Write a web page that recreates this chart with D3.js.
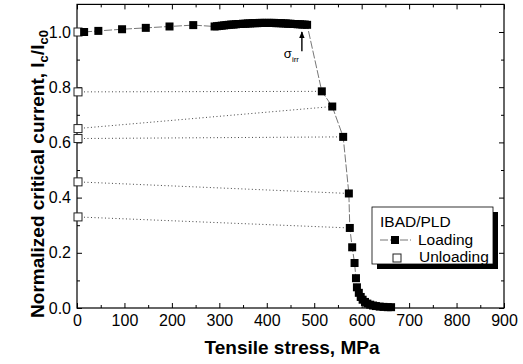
<!DOCTYPE html>
<html><head><meta charset="utf-8">
<script src="https://cdn.jsdelivr.net/npm/d3@7/dist/d3.min.js"></script>
<style>body{margin:0;background:#fff}svg{font-family:"Liberation Sans",Arial,sans-serif}</style>
</head><body>
<svg id="c" width="523" height="364"></svg>
<script>
const loadX = [15,45,95,145,195,245,
 290,295,300,305,310,315,320,325,330,335,340,345,350,355,360,365,370,375,380,385,390,395,400,405,410,415,420,425,430,435,440,445,450,455,460,465,470,475,480,485,
 516,538,561,573,575,580,585,588,590,594,598,602,607,612,618,624,630,638,646,655,662];
const loadY = [1.0,1.004,1.01,1.015,1.02,1.025,
 1.020,1.021,1.022,1.023,1.024,1.025,1.026,1.027,1.027,1.028,1.029,1.029,1.030,1.030,1.031,1.031,1.032,1.032,1.032,1.033,1.033,1.033,1.033,1.033,1.033,1.033,1.032,1.032,1.032,1.031,1.031,1.030,1.030,1.029,1.029,1.028,1.028,1.027,1.027,1.026,
 0.785,0.73,0.62,0.415,0.29,0.22,0.163,0.108,0.075,0.055,0.04,0.03,0.022,0.016,0.012,0.009,0.007,0.005,0.004,0.003,0.003];
const unloadX = [0,0,0,0,0,0];
const unloadY = [1.0,0.783,0.65,0.614,0.457,0.33];
// which loading stress each unloading point is linked to
const linkX = [null,516,538,561,573,575];
const linkY = [null,0.785,0.73,0.62,0.415,0.29];
const xTicks = [0,100,200,300,400,500,600,700,800,900];
const yTicks = [0.0,0.2,0.4,0.6,0.8,1.0];

const svg = d3.select("#c");
const L=77,R=504,T=4.4,B=308;
const x = d3.scaleLinear().domain([0,900]).range([L,R]);
const y = d3.scaleLinear().domain([0,1.1]).range([B,T]);

// frame
svg.append("rect").attr("x",L).attr("y",T).attr("width",R-L).attr("height",B-T)
  .attr("fill","none").attr("stroke","#000").attr("stroke-width",1.2);

// axes
const fmtY = d3.format(".1f");
const gB = svg.append("g").attr("transform",`translate(0,${B})`)
  .call(d3.axisBottom(x).tickValues(xTicks).tickSize(-5).tickPadding(7).tickFormat(d3.format("d")));
const gBm = svg.append("g").attr("transform",`translate(0,${B})`)
  .call(d3.axisBottom(x).tickValues(d3.range(50,900,100)).tickSize(-3).tickFormat(""));
const gT = svg.append("g").attr("transform",`translate(0,${T})`)
  .call(d3.axisTop(x).tickValues(xTicks).tickSize(-5).tickFormat(""));
const gTm = svg.append("g").attr("transform",`translate(0,${T})`)
  .call(d3.axisTop(x).tickValues(d3.range(50,900,100)).tickSize(-3).tickFormat(""));
const gL = svg.append("g").attr("transform",`translate(${L},0)`)
  .call(d3.axisLeft(y).tickValues(yTicks).tickSize(-5).tickPadding(6).tickFormat(fmtY));
const gLm = svg.append("g").attr("transform",`translate(${L},0)`)
  .call(d3.axisLeft(y).tickValues([0.1,0.3,0.5,0.7,0.9]).tickSize(-3).tickFormat(""));
const gR = svg.append("g").attr("transform",`translate(${R},0)`)
  .call(d3.axisRight(y).tickValues(yTicks).tickSize(-5).tickFormat(""));
const gRm = svg.append("g").attr("transform",`translate(${R},0)`)
  .call(d3.axisRight(y).tickValues([0.1,0.3,0.5,0.7,0.9]).tickSize(-3).tickFormat(""));
[gB,gBm,gT,gTm,gL,gLm,gR,gRm].forEach(g=>{
  g.select(".domain").remove();
  g.selectAll("line").attr("stroke","#000");
  g.selectAll("text").attr("font-size",16).attr("fill","#000").attr("font-family","Liberation Sans, Arial, sans-serif");
});

// dotted unloading links
unloadX.forEach((ux,i)=>{
  if(linkX[i]===null) return;
  svg.append("line").attr("x1",x(ux)).attr("y1",y(unloadY[i]))
    .attr("x2",x(linkX[i])).attr("y2",y(linkY[i]))
    .attr("stroke","#444").attr("stroke-width",1).attr("stroke-dasharray","1,2.5");
});

// loading line
const pts = loadX.map((d,i)=>[d,loadY[i]]);
svg.append("path").datum(pts)
  .attr("d",d3.line().x(d=>x(d[0])).y(d=>y(d[1])))
  .attr("fill","none").attr("stroke","#666").attr("stroke-width",0.9).attr("stroke-dasharray","8,2");

// unloading open squares
const s=8;
svg.selectAll(".u").data(unloadX.map((d,i)=>[d,unloadY[i]])).enter().append("rect")
  .attr("x",d=>x(d[0])-s/2+1).attr("y",d=>y(d[1])-s/2).attr("width",s).attr("height",s)
  .attr("fill","#fff").attr("stroke","#222").attr("stroke-width",1);

// loading filled squares
svg.selectAll(".l").data(pts).enter().append("rect")
  .attr("x",d=>x(d[0])-s/2).attr("y",d=>y(d[1])-s/2).attr("width",s).attr("height",s)
  .attr("fill","#000");

// sigma_irr annotation
svg.append("defs").append("marker").attr("id","ah").attr("viewBox","0 0 10 10")
  .attr("refX",9).attr("refY",5).attr("markerWidth",5).attr("markerHeight",7).attr("orient","auto")
  .append("path").attr("d","M0,1 L10,5 L0,9 Z").attr("fill","#000");
svg.append("line").attr("x1",x(474)).attr("y1",y(0.93)).attr("x2",x(474)).attr("y2",y(1.0))
  .attr("stroke","#000").attr("stroke-width",1.4).attr("marker-end","url(#ah)");
const st = svg.append("text").attr("x",x(436)).attr("y",y(0.905)).attr("font-size",13).attr("fill","#000");
st.append("tspan").text("σ");
st.append("tspan").attr("font-size",8).attr("dy",4).text("irr");

// legend
const lx=372, ly=207, lw=121, lh=57;
svg.append("rect").attr("x",lx+5).attr("y",ly+5).attr("width",lw).attr("height",lh).attr("fill","#000");
svg.append("rect").attr("x",lx).attr("y",ly).attr("width",lw).attr("height",lh)
  .attr("fill","#fff").attr("stroke","#000").attr("stroke-width",0.8);
svg.append("text").attr("x",380).attr("y",227).attr("font-size",15.5).text("IBAD/PLD");
svg.append("line").attr("x1",380).attr("x2",411).attr("y1",240).attr("y2",240)
  .attr("stroke","#666").attr("stroke-width",0.9).attr("stroke-dasharray","8,2");
svg.append("rect").attr("x",391).attr("y",236).attr("width",8).attr("height",8).attr("fill","#000");
svg.append("text").attr("x",418).attr("y",245).attr("font-size",15.5).text("Loading");
svg.append("rect").attr("x",393).attr("y",254).attr("width",8).attr("height",8).attr("fill","#fff").attr("stroke","#222");
svg.append("text").attr("x",419).attr("y",262).attr("font-size",15.5).text("Unloading");

// axis titles
svg.append("text").attr("x",292).attr("y",354).attr("text-anchor","middle")
  .attr("font-size",19).attr("font-weight","bold").text("Tensile stress, MPa");
const yt = svg.append("text").attr("transform","translate(44,174) rotate(-90)").attr("text-anchor","middle")
  .attr("font-size",19).attr("font-weight","bold");
yt.append("tspan").text("Normalized critical current, I");
yt.append("tspan").attr("font-size",13).attr("dy",4).text("c");
yt.append("tspan").attr("dy",-4).text("/I");
yt.append("tspan").attr("font-size",13).attr("dy",4).text("c0");
</script>
</body></html>
